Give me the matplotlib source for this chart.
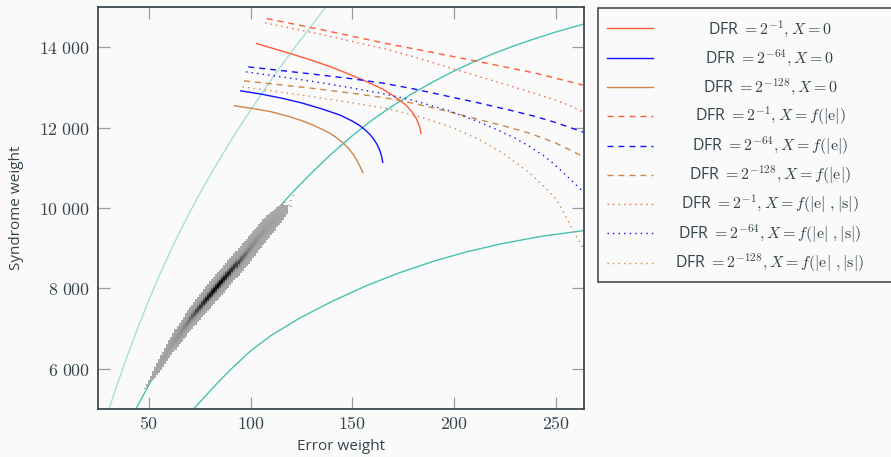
import numpy as np
import matplotlib
matplotlib.use("Agg")
import matplotlib.pyplot as plt
from matplotlib.colors import LinearSegmentedColormap
from matplotlib.lines import Line2D
from matplotlib.patches import Rectangle

plt.rcParams["font.family"] = ["Open Sans", "DejaVu Sans"]
plt.rcParams["mathtext.fontset"] = "cm"

W, H = 891, 457
BG = "#fafafa"
TXT = "#34444b"

RED = "#ff5a36"
BLUE = "#1010ff"
BROWN = "#cc8848"
TEAL = "#48c2b0"
TEAL_LIGHT = "#a6e0d6"

# --- reference curves (error weight -> syndrome weight) ---
teal_light_x = [30.3, 35, 40, 45, 50, 55, 60, 65, 70, 75, 80, 85, 90, 95, 100, 105, 110, 115, 120,
                125, 130, 135, 140]
teal_light_y = [5000, 5705, 6420, 7090, 7720, 8315, 8875, 9400, 9895, 10365, 10815, 11245, 11660,
                12060, 12445, 12820, 13188, 13543, 13887, 14222, 14552, 14880, 15200]

teal_mid_x = [43.5, 50, 55, 60, 70, 80, 90, 100, 110, 120, 130, 140, 150, 160, 170, 180, 190, 200,
              210, 220, 230, 240, 250, 263.6]
teal_mid_y = [5000, 5605, 6040, 6455, 7225, 7935, 8595, 9205, 9805, 10365, 10885, 11365, 11805,
              12205, 12555, 12870, 13155, 13415, 13650, 13860, 14050, 14225, 14385, 14581]

teal_low_x = [71.9, 80, 85, 90.9, 100, 110, 123.9, 140, 156.9, 173, 189.9, 206, 222.9, 243, 263.6]
teal_low_y = [5000, 5450, 5720, 6020, 6450, 6830, 7260, 7680, 8070, 8390, 8680, 8910, 9110, 9300, 9440]

# --- DFR thresholds, X = 0 ---
red_solid_x = [102.9, 110, 120, 130, 140, 150, 155.4, 160, 165, 170, 174, 177, 179.5, 181.5, 183, 183.7]
red_solid_y = [14098, 13990, 13840, 13680, 13505, 13300, 13186, 13080, 12960, 12800, 12660, 12530,
               12380, 12220, 12040, 11862]

blue_solid_x = [95.1, 105, 115, 125, 135, 143.9, 147, 150, 153, 156, 158.5, 160.5, 162.2, 163.5,
                164.4, 164.9]
blue_solid_y = [12920, 12840, 12740, 12620, 12470, 12317, 12240, 12165, 12075, 11960, 11840, 11715,
                11580, 11430, 11280, 11142]

brown_solid_x = [91.9, 100, 110, 119.3, 125, 130, 135, 139, 142, 145, 148, 150.5, 152.5, 154, 155.1]
brown_solid_y = [12548, 12490, 12400, 12275, 12180, 12080, 11965, 11862, 11760, 11640, 11490, 11330,
                 11160, 11010, 10884]

# --- X = f(|e|) ---
red_dash_x = [107.9, 135, 165.2, 190, 212.7, 240, 263.6]
red_dash_y = [14719, 14440, 14113, 13870, 13641, 13360, 13060]

blue_dash_x = [98.8, 130, 150, 165.2, 180, 196.4, 212, 229.1, 240, 250, 263.6]
blue_dash_y = [13517, 13340, 13220, 13110, 12970, 12790, 12620, 12420, 12280, 12130, 11890]

brown_dash_x = [96.7, 130, 150, 166.8, 179.9, 196, 212.7, 225, 237.3, 250, 260.2, 263.6]
brown_dash_y = [13169, 12985, 12860, 12740, 12610, 12420, 12200, 12040, 11862, 11620, 11366, 11280]

# --- X = f(|e|, |s|) ---
red_dot_x = [107, 135, 165.2, 180, 196.4, 212, 229.1, 240, 250.4, 257, 263.6]
red_dot_y = [14612, 14320, 13974, 13770, 13517, 13280, 13020, 12850, 12680, 12550, 12390]

blue_dot_x = [97.7, 130, 150, 165.2, 180, 196.4, 210, 220.9, 230, 237.3, 245, 250.4, 256, 263.6]
blue_dot_y = [13393, 13160, 12990, 12850, 12680, 12441, 12190, 11960, 11740, 11530, 11270, 11040,
              10770, 10400]

brown_dot_x = [96, 130, 150, 166.8, 183.2, 200, 212.7, 225, 237.3, 245, 250.4, 254, 257.5, 260.5, 263.6]
brown_dot_y = [13020, 12780, 12620, 12483, 12275, 11990, 11696, 11330, 10868, 10500, 10205, 9880,
               9540, 9260, 8990]

# --- simulated (error weight, syndrome weight) density ---
blob_t = [49, 55, 62, 70, 78, 84, 90, 98, 106, 113, 116, 118.5]
blob_center = [5580, 6070, 6660, 7240, 7720, 8070, 8414, 8898, 9403, 9771, 9900, 9980]
blob_half = [40, 170, 240, 300, 330, 340, 340, 340, 320, 260, 190, 90]
blob_peak = [0.0, 0.04, 0.18, 0.5, 0.88, 1.0, 0.85, 0.45, 0.18, 0.05, 0.02, 0.0]
outlier_t = [48.5, 119, 120, 121, 117.5, 120]
outlier_s = [5520, 10080, 10200, 10320, 10150, 10060]

x_ticks = [50, 100, 150, 200, 250]
y_ticks = [6000, 8000, 10000, 12000, 14000]

fig = plt.figure(figsize=(W / 100, H / 100), dpi=100, facecolor=BG)
ax = fig.add_axes([98 / W, 48 / H, 485.5 / W, 401.7 / H])
ax.set_facecolor(BG)

ax.plot(teal_light_x, teal_light_y, color=TEAL_LIGHT, lw=1.0, zorder=1)
ax.plot(teal_mid_x, teal_mid_y, color=TEAL, lw=1.0, zorder=1)
ax.plot(teal_low_x, teal_low_y, color=TEAL, lw=1.0, zorder=1)

# density raster
t_edges = np.arange(47.5, 122.5, 1.0)
s_edges = np.arange(5300, 10500, 20.0)
tc = 0.5 * (t_edges[:-1] + t_edges[1:])
sc = 0.5 * (s_edges[:-1] + s_edges[1:])
T, S = np.meshgrid(tc, sc)
cen = np.interp(T, blob_t, blob_center)
half = np.interp(T, blob_t, blob_half)
peak = np.interp(T, blob_t, blob_peak)
inside = (np.abs(S - cen) <= half) & (T >= blob_t[0]) & (T <= blob_t[-1])
val = peak * np.exp(-0.5 * ((S - cen) / 80.0) ** 2)
for ot, os_ in zip(outlier_t, outlier_s):
    i = np.argmin(np.abs(sc - os_))
    j = np.argmin(np.abs(tc - ot))
    inside[i, j] = True
val = np.ma.masked_where(~inside, val)
cmap = LinearSegmentedColormap.from_list("g", ["#a8a8a8", "#8c8c8c", "#404040", "#000000"])
ax.pcolormesh(t_edges, s_edges, val, cmap=cmap, vmin=0, vmax=1, shading="flat",
              antialiased=False, zorder=2)

dash = (0, (4.3, 3.6))
dot = (0, (1.0, 3.0))
series = [
    (red_solid_x, red_solid_y, RED, "-"),
    (blue_solid_x, blue_solid_y, BLUE, "-"),
    (brown_solid_x, brown_solid_y, BROWN, "-"),
    (red_dash_x, red_dash_y, RED, dash),
    (blue_dash_x, blue_dash_y, BLUE, dash),
    (brown_dash_x, brown_dash_y, BROWN, dash),
    (red_dot_x, red_dot_y, RED, dot),
    (blue_dot_x, blue_dot_y, BLUE, dot),
    (brown_dot_x, brown_dot_y, BROWN, dot),
]
for xs, ys, c, ls in series:
    ax.plot(xs, ys, color=c, lw=1.0, ls=ls, zorder=3)

ax.set_xlim(24.9, 263.6)
ax.set_ylim(5000, 15000)
ax.set_xticks(x_ticks)
ax.set_yticks(y_ticks)
ax.set_xticklabels([rf"${v}$" for v in x_ticks])
ax.set_yticklabels([rf"${v // 1000}\ 000$" for v in y_ticks])
ax.tick_params(direction="in", length=8.5, width=0.9, color="#9a9a9a",
               top=True, right=True, labelsize=12.8, labelcolor=TXT)
ax.tick_params(axis="x", pad=4)
ax.tick_params(axis="y", pad=6)
for sp in ax.spines.values():
    sp.set_color("#2e3d44")
    sp.set_linewidth(1.2)

fig.text(341 / W, 1 - 447 / H, "Error weight", ha="center", va="center",
         fontsize=11, color=TXT)
fig.text(17 / W, 1 - 208 / H, "Syndrome weight", ha="center", va="center",
         rotation=90, fontsize=11, color=TXT)

# legend, drawn by hand so entries can be centred
labels = [
    r"DFR $= 2^{-1}, X = 0$",
    r"DFR $= 2^{-64}, X = 0$",
    r"DFR $= 2^{-128}, X = 0$",
    r"DFR $= 2^{-1}, X = f(|\mathrm{e}|)$",
    r"DFR $= 2^{-64}, X = f(|\mathrm{e}|)$",
    r"DFR $= 2^{-128}, X = f(|\mathrm{e}|)$",
    r"DFR $= 2^{-1}, X = f(|\mathrm{e}|\ ,|\mathrm{s}|)$",
    r"DFR $= 2^{-64}, X = f(|\mathrm{e}|\ ,|\mathrm{s}|)$",
    r"DFR $= 2^{-128}, X = f(|\mathrm{e}|\ ,|\mathrm{s}|)$",
]
fig.patches.append(Rectangle((598.3 / W, 1 - 282.3 / H), (895 - 598.3) / W, (282.3 - 7.7) / H,
                             transform=fig.transFigure, facecolor=BG, edgecolor="#4a4a4a",
                             lw=1.2, zorder=5))
for i, ((_, _, c, ls), lab) in enumerate(zip(series, labels)):
    yrow = 1 - (28.3 + i * 29.3) / H
    fig.lines.append(Line2D([607.3 / W, 652.7 / W], [yrow, yrow], transform=fig.transFigure,
                            color=c, lw=1.0, ls=ls, zorder=6))
    fig.text(770 / W, yrow, lab, ha="center", va="center", fontsize=11.5, color=TXT, zorder=6)

fig.savefig("out.png", dpi=100, facecolor=BG)
